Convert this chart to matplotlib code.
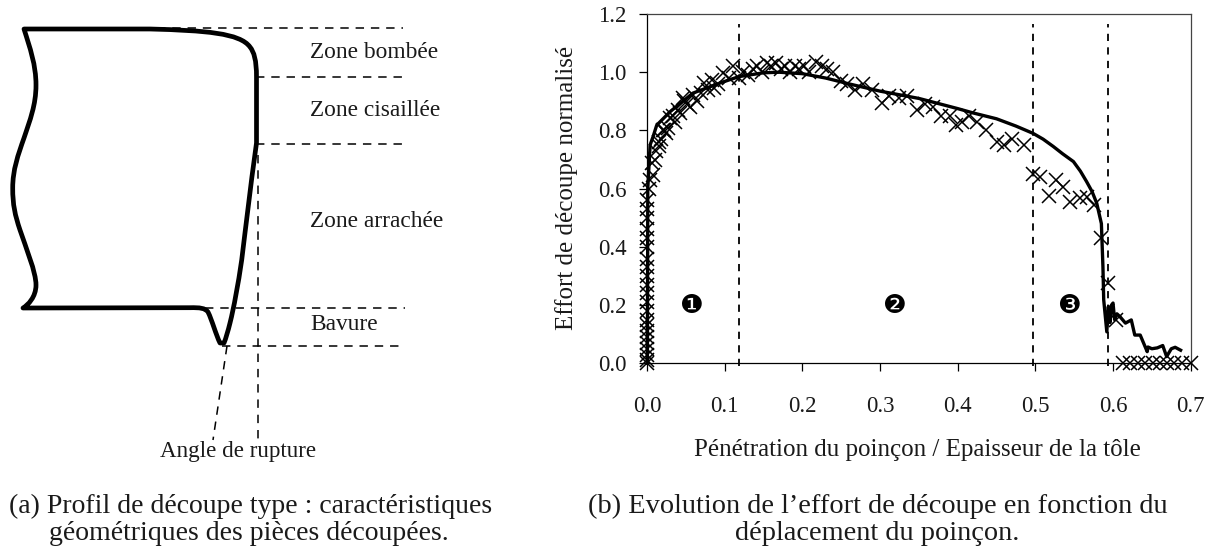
import matplotlib
matplotlib.use("Agg")
import matplotlib.pyplot as plt
from matplotlib.path import Path
from matplotlib.patches import PathPatch
from matplotlib.ticker import FixedLocator

W, H = 1213, 554
SERIF = "Liberation Serif"
INK = "#1a1a1a"

# --- chart (b) data ---
marker_x = [0.0005]*22 + [0.002,0.008,0.004,0.006,0.010,0.015,0.012,0.018,0.020,0.016,0.024,0.030,0.027,0.022,0.036,0.033,0.042,0.046,0.040,0.052,0.048,0.059,0.056,0.065,0.073,0.070,0.078,0.086,0.084,0.092,0.098,0.105,0.111,0.118,0.124,0.130,0.136,0.142,0.148,0.154,0.160,0.166,0.172,0.178,0.184,0.190,0.196,0.202,0.208,0.218,0.225,0.232,0.240,0.250,0.258,0.268,0.278,0.290,0.302,0.312,0.325,0.335,0.347,0.358,0.368,0.378,0.390,0.398,0.405,0.415,0.425,0.437,0.450,0.460,0.470,0.485,0.497,0.506,0.517,0.527,0.535,0.545,0.557,0.567,0.575,0.584,0.593,0.604,0.613,0.622,0.632,0.641,0.651,0.660,0.670,0.679,0.689,0.700]
marker_y = [0,0.01,0.03,0.05,0.07,0.09,0.11,0.13,0.15,0.18,0.21,0.24,0.27,0.30,0.33,0.36,0.40,0.43,0.46,0.50,0.53,0.56] + [0.60,0.648,0.63,0.688,0.70,0.745,0.73,0.77,0.80,0.76,0.79,0.842,0.81,0.80,0.83,0.85,0.86,0.91,0.87,0.89,0.90,0.922,0.88,0.90,0.962,0.93,0.94,0.945,0.974,0.96,0.996,0.98,1.02,0.98,1.00,0.99,1.01,1.02,1.00,1.03,1.02,1.03,1.01,1.02,1.00,1.02,1.01,1.02,1.00,1.036,1.02,1.01,1.00,0.97,0.96,0.939,0.96,0.94,0.894,0.92,0.91,0.92,0.87,0.89,0.88,0.85,0.85,0.82,0.83,0.85,0.83,0.80,0.76,0.75,0.77,0.75,0.65,0.64,0.575,0.63,0.606,0.555,0.567,0.57,0.544,0.43,0.276,0.149,0,0,0,0,0,0,0,0,0,0]

line_x = [0.0005,0.0008,0.001,0.004,0.008,0.0125,0.030,0.059,0.094,0.1185,0.150,0.170,0.200,0.230,0.260,0.300,0.350,0.400,0.420,0.450,0.475,0.497,0.510,0.523,0.535,0.549,0.558,0.566,0.573,0.579,0.585,0.587,0.588,0.592,0.594,0.596,0.598,0.600,0.602,0.605,0.609,0.616,0.6235,0.628,0.635,0.644,0.645,0.650,0.657,0.664,0.669,0.675,0.680,0.687]
line_y = [0,0.30,0.60,0.75,0.78,0.818,0.865,0.928,0.963,0.985,0.998,1.0,0.995,0.98,0.96,0.935,0.91,0.875,0.86,0.84,0.815,0.79,0.77,0.745,0.72,0.693,0.66,0.624,0.59,0.55,0.48,0.332,0.218,0.108,0.195,0.14,0.20,0.207,0.15,0.17,0.16,0.138,0.149,0.097,0.097,0.04,0.056,0.05,0.053,0.061,0.023,0.05,0.055,0.045]

phase_x = [0.1185, 0.497, 0.5937]
phase_labels = ["\u2776", "\u2777", "\u2778"]
phase_label_x = [0.058, 0.3185, 0.543]
phase_label_y = [0.197, 0.197, 0.197]

xticks = [0.0,0.1,0.2,0.3,0.4,0.5,0.6,0.7]
yticks = [0.0,0.2,0.4,0.6,0.8,1.0,1.2]

# --- schematic (a): outline and guide lines, in figure pixels ---
M, L_, C, Z = Path.MOVETO, Path.LINETO, Path.CURVE4, Path.CLOSEPOLY
profile_vertices = [
    (24,29),(150,29),
    (205,30.5),(240,33),(250,47),
    (254,52),(256.5,60),(256.5,77),
    (256.5,143),
    (250,190),(246,225),(241.7,260),
    (238,285),(234,307),(230,323),
    (228,331),(226,338),(224,343),
    (220,343),
    (216,335),(212,320),(208,312),
    (205,308),(200,307.5),(190,307.7),
    (23,308),
    (28,305),(36,297),(36,285),
    (36,272),(26,248),(20,230),
    (15,215),(12.7,205),(12.7,188),
    (12.7,170),(18,155),(24,138),
    (30,120),(36,105),(36,85),
    (36,65),(30,48),(24,29),
    (24,29),
]
profile_codes = [M,L_,C,C,C,C,C,C,L_,C,C,C,C,C,C,C,C,C,L_,C,C,C,C,C,C,L_,C,C,C,C,C,C,C,C,C,C,C,C,C,C,C,C,C,C,Z]
guides = [((157,403),(28,28)),((256,405),(77,77)),((256,405),(144,144)),((205,405),(308,308)),((222,400),(346,346)),((258,258),(155,440)),((227,213),(346,440))]
zone_labels = ["Zone bombée","Zone cisaillée","Zone arrachée","Bavure"]
zone_y = [53,110.5,221.5,325]

fig = plt.figure(figsize=(W/100, H/100), dpi=100)
plt.rcParams["font.family"] = SERIF

bg = fig.add_axes([0,0,1,1])
bg.set_xlim(0,W); bg.set_ylim(H,0); bg.axis("off")
for gx, gy in guides:
    bg.plot(gx, gy, color="black", lw=1.1, dashes=(5.5,4.5))
bg.add_patch(PathPatch(Path(profile_vertices, profile_codes), fc="none", ec="black", lw=3.4, joinstyle="round"))
for s, y in zip(zone_labels, zone_y):
    bg.text(310, y, s, family=SERIF, fontsize=16.8, color=INK, va="center", ha="left")
bg.text(238, 451.5, "Angle de rupture", family=SERIF, fontsize=16.6, color=INK, va="center", ha="center")
bg.text(251, 513, "(a) Profil de découpe type : caractéristiques", family=SERIF, fontsize=20, color=INK, va="baseline", ha="center")
bg.text(249, 539.5, "géométriques des pièces découpées.", family=SERIF, fontsize=20, color=INK, va="baseline", ha="center")
bg.text(878, 513, "(b) Evolution de l\u2019effort de découpe en fonction du", family=SERIF, fontsize=20.4, color=INK, va="baseline", ha="center")
bg.text(877, 539.5, "déplacement du poinçon.", family=SERIF, fontsize=20.4, color=INK, va="baseline", ha="center")
bg.text(917, 450, "Pénétration du poinçon / Epaisseur de la tôle", family=SERIF, fontsize=18, color=INK, va="center", ha="center")
bg.text(567, 188, "Effort de découpe normalisé", family=SERIF, fontsize=18, color=INK, va="center", ha="center", rotation=90)

L, R, T, B = 647, 1190.7, 14, 363.3
ax = fig.add_axes([L/W, 1-B/H, (R-L)/W, (B-T)/H])
ax.patch.set_alpha(0)
ax.set_xlim(0,0.7); ax.set_ylim(0,1.2)
ax.xaxis.set_major_locator(FixedLocator(xticks))
ax.yaxis.set_major_locator(FixedLocator(yticks))
ax.set_xticklabels([f"{v:.1f}" for v in xticks], family=SERIF, fontsize=16.5, color=INK)
ax.set_yticklabels([f"{v:.1f}" for v in yticks], family=SERIF, fontsize=16.5, color=INK)
ax.tick_params(length=5.5, width=0.9, direction="out")
ax.tick_params(axis="y", pad=9)
ax.tick_params(axis="x", pad=18)
for s in ax.spines.values():
    s.set_linewidth(0.9)
ax.spines["top"].set_color("#444444")
ax.spines["right"].set_color("#444444")
ax.plot(marker_x, marker_y, ls="none", marker="x", ms=9.6, mew=1.1, color="black", clip_on=False, zorder=3)
ax.plot(line_x, line_y, color="black", lw=2.4, solid_joinstyle="round", zorder=4, clip_on=False)
for v in phase_x:
    ax.plot([v,v],[-0.01,1.165], color="black", lw=1.3, dashes=(4,3.5), clip_on=False, zorder=5)
for s, x, y in zip(phase_labels, phase_label_x, phase_label_y):
    ax.text(x, y, s, family="DejaVu Sans", fontsize=19, color="black", ha="center", va="center")

fig.savefig("out.png", dpi=100)
